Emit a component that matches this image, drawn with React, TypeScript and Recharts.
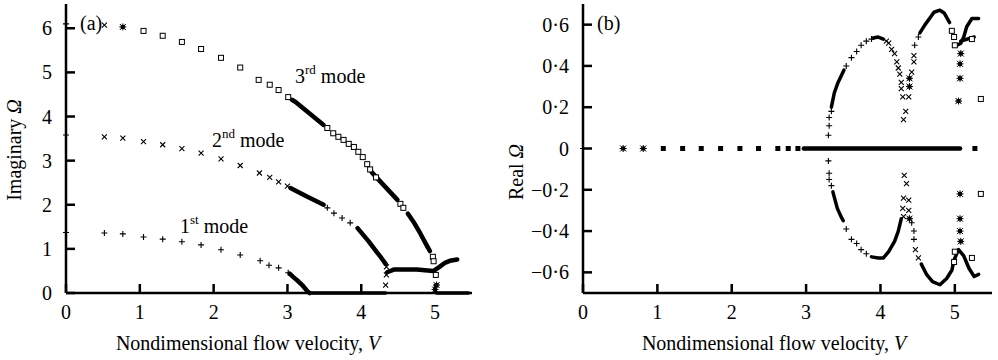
import React from 'react';
import { ScatterChart, Scatter, XAxis, YAxis } from 'recharts';

type P = [number, number];

// ---------- Panel (a): Imaginary part ----------
const aPlus: P[] = [
  [0, 6.1], [0, 3.58], [0, 1.37],
  [0.52, 1.36], [0.77, 1.34], [1.05, 1.27], [1.31, 1.22], [1.57, 1.16], [1.83, 1.09],
  [2.10, 0.98], [2.36, 0.86], [2.63, 0.73], [2.75, 0.63], [2.88, 0.57], [3.01, 0.46],
  [3.54, 1.93], [3.63, 1.81], [3.74, 1.70], [3.85, 1.59],
];
const aCross: P[] = [
  [0.52, 6.07],
  [0.52, 3.54], [0.77, 3.51], [1.05, 3.43], [1.31, 3.36], [1.57, 3.27], [1.83, 3.17],
  [2.10, 3.04], [2.36, 2.89], [2.62, 2.72], [2.76, 2.62], [2.88, 2.52], [3.0, 2.42],
  [4.34, 0.59], [4.34, 0.41], [4.33, 0.18],
];
const aSquare: P[] = [
  [1.05, 5.94], [1.31, 5.83], [1.57, 5.69], [1.83, 5.53], [2.10, 5.33], [2.36, 5.11],
  [2.61, 4.83], [2.76, 4.72], [2.88, 4.60], [3.01, 4.44],
  [3.54, 3.74], [3.62, 3.62], [3.69, 3.54], [3.76, 3.47], [3.83, 3.38], [3.90, 3.31],
  [3.96, 3.20], [4.02, 3.08], [4.08, 2.92], [4.12, 2.80], [4.2, 2.62],
  [4.53, 2.02], [4.57, 1.93], [4.97, 0.82], [4.98, 0.72], [5.01, 0.41],
];
const aStar: P[] = [[0.77, 6.03], [5.0, 0.08], [5.02, 0.18]];
const aMode1Dense: P[] = [[3.03, 0.44], [3.08, 0.36], [3.15, 0.26], [3.2, 0.18], [3.27, 0.04], [3.3, 0]];
const aZero1: P[] = [[3.3, 0], [4.33, 0]];
const aZero2: P[] = [[5.02, 0], [5.45, 0]];
const aMode2DenseA: P[] = [[3.04, 2.38], [3.27, 2.18], [3.49, 2.0]];
const aMode2DenseB: P[] = [[3.95, 1.47], [4.1, 1.17], [4.2, 0.95], [4.27, 0.8], [4.33, 0.66]];
const aBand: P[] = [
  [4.35, 0.47], [4.44, 0.53], [4.6, 0.53], [4.75, 0.53], [4.9, 0.51], [4.98, 0.5],
  [5.05, 0.58], [5.14, 0.69], [5.2, 0.73], [5.3, 0.76],
];
const aMode3DenseA: P[] = [[3.06, 4.38], [3.11, 4.33], [3.3, 4.07], [3.49, 3.81]];
const aMode3DenseB: P[] = [[4.14, 2.74], [4.3, 2.45], [4.49, 2.11]];
const aMode3DenseC: P[] = [[4.63, 1.8], [4.72, 1.58], [4.8, 1.35], [4.87, 1.13], [4.93, 0.95]];

// ---------- Panel (b): Real part ----------
const bPlus: P[] = [
  [0, 0],
  [3.30, 0.064], [3.31, 0.11], [3.31, 0.15], [3.34, 0.18],
  [3.54, 0.40], [3.61, 0.44], [3.68, 0.47], [3.74, 0.50], [3.81, 0.52], [3.88, 0.53],
  [4.46, 0.50], [4.51, 0.54],
  [3.30, -0.06], [3.31, -0.12], [3.31, -0.15], [3.34, -0.18],
  [3.54, -0.39], [3.61, -0.44], [3.68, -0.46], [3.74, -0.49], [3.81, -0.51],
  [4.42, -0.36], [4.45, -0.40], [4.45, -0.44],
];
const bCross: P[] = [
  [4.08, 0.52], [4.11, 0.51], [4.15, 0.48], [4.19, 0.46], [4.22, 0.42], [4.24, 0.39],
  [4.26, 0.36], [4.28, 0.32], [4.28, 0.29], [4.30, 0.25], [4.34, 0.18], [4.31, 0.14],
  [4.38, 0.25], [4.42, 0.37], [4.45, 0.42], [4.45, 0.45],
  [4.31, -0.33], [4.30, -0.29], [4.31, -0.24], [4.35, -0.17], [4.32, -0.13],
  [4.38, -0.25], [4.38, -0.30], [4.47, -0.49], [4.51, -0.53],
];
const bSquare: P[] = [
  [4.96, 0.57], [4.99, 0.54], [5.0, 0.50], [5.23, 0.53], [5.35, 0.24],
  [4.99, -0.55], [5.0, -0.50], [5.23, -0.53], [5.35, -0.22],
];
const bStar: P[] = [
  [0.54, 0], [0.81, 0],
  [4.39, 0.30], [4.39, 0.34], [4.39, -0.34],
  [5.08, 0.46], [5.07, 0.41], [5.07, 0.34], [5.05, 0.23],
  [5.07, -0.22], [5.07, -0.34], [5.07, -0.40], [5.08, -0.45],
];
const bFilled: P[] = [
  [1.08, 0], [1.34, 0], [1.59, 0], [1.85, 0], [2.11, 0], [2.36, 0], [2.62, 0], [2.76, 0], [2.89, 0], [5.27, 0],
];
const bZero: P[] = [[2.97, 0], [5.07, 0]];
const bUpArc1Rise: P[] = [[3.34, 0.2], [3.38, 0.27], [3.43, 0.32], [3.47, 0.35], [3.51, 0.38]];
const bUpArc1Top: P[] = [[3.9, 0.535], [3.97, 0.54], [4.04, 0.53]];
const bUpArc2: P[] = [[4.53, 0.56], [4.6, 0.6], [4.66, 0.63], [4.72, 0.66], [4.8, 0.67], [4.86, 0.655], [4.93, 0.61]];
const bUpRight: P[] = [[5.03, 0.50], [5.08, 0.51], [5.12, 0.54], [5.16, 0.59], [5.23, 0.63], [5.32, 0.63]];
const bUpFlat: P[] = [[5.08, 0.52], [5.26, 0.54]];
const bLoArc1Rise: P[] = [[3.36, -0.21], [3.42, -0.29], [3.47, -0.33], [3.5, -0.35]];
const bLoArc1Bottom: P[] = [[3.88, -0.525], [3.97, -0.53], [4.04, -0.53], [4.11, -0.5], [4.19, -0.45], [4.24, -0.4], [4.28, -0.34]];
const bLoArc2: P[] = [
  [4.55, -0.56], [4.62, -0.61], [4.7, -0.645], [4.8, -0.66], [4.89, -0.63], [4.96, -0.59],
  [4.99, -0.54], [5.05, -0.49], [5.12, -0.52], [5.19, -0.58], [5.26, -0.62], [5.32, -0.61],
];

const xTicks = [0, 1, 2, 3, 4, 5];
const aYTicks = [0, 1, 2, 3, 4, 5, 6];
const bYTicks = [-0.6, -0.4, -0.2, 0, 0.2, 0.4, 0.6];
const bTopTicks = [1, 2];

const rows = (pts: P[]) => pts.map(([v, w]) => ({ v, w }));

const FONT = '"Liberation Serif", "Times New Roman", serif';
const X_MARGIN = 12;
const Y_MARGIN = 14;
const TICK_LEN = 9;

const Plus = (p: any) => (
  <path d={`M${p.cx - 3},${p.cy}h6M${p.cx},${p.cy - 3}v6`} stroke="#000" strokeWidth={1.1} fill="none" />
);
const Cross = (p: any) => (
  <path d={`M${p.cx - 2.5},${p.cy - 2.5}l5,5M${p.cx - 2.5},${p.cy + 2.5}l5,-5`} stroke="#000" strokeWidth={1.1} fill="none" />
);
const Square = (p: any) => (
  <rect x={p.cx - 2.5} y={p.cy - 2.5} width={5} height={5} fill="#fff" stroke="#000" strokeWidth={1} />
);
const Star = (p: any) => (
  <g>
    <rect x={p.cx - 2} y={p.cy - 2} width={4} height={4} fill="#000" />
    <path d={`M${p.cx - 3},${p.cy - 3}l6,6M${p.cx - 3},${p.cy + 3}l6,-6M${p.cx - 3.5},${p.cy}h7M${p.cx},${p.cy - 3.5}v7`} stroke="#000" strokeWidth={1} />
  </g>
);
const Filled = (p: any) => <rect x={p.cx - 2.5} y={p.cy - 2.5} width={5} height={5} fill="#000" />;
const Nothing = () => <g />;

const fmtA = (t: number) => String(t);
const fmtB = (t: number) => (t === 0 ? '0' : (t < 0 ? '\u2212' : '') + Math.abs(t).toFixed(1).replace('.', '\u00b7'));

const XTick = (p: any) => {
  const ay = p.y - X_MARGIN;
  return (
    <g>
      <line x1={p.x} x2={p.x} y1={ay} y2={ay - TICK_LEN} stroke="#000" strokeWidth={2.5} />
      <text x={p.x} y={p.y} dy="0.71em" textAnchor="middle" fontFamily={FONT} fontSize={20} fill="#000">
        {fmtA(p.payload.value)}
      </text>
    </g>
  );
};
const TopTick = (p: any) => (
  <line x1={p.x} x2={p.x} y1={p.y} y2={p.y + TICK_LEN} stroke="#000" strokeWidth={2.5} />
);
const makeYTick = (fmt: (t: number) => string) => (p: any) => {
  const ax = p.x + Y_MARGIN;
  return (
    <g>
      <line x1={ax} x2={ax + TICK_LEN} y1={p.y} y2={p.y} stroke="#000" strokeWidth={2.5} />
      <text x={p.x} y={p.y} dy="0.355em" textAnchor="end" fontFamily={FONT} fontSize={20} fill="#000">
        {fmt(p.payload.value)}
      </text>
    </g>
  );
};
const YTickA = makeYTick(fmtA);
const YTickB = makeYTick(fmtB);

const dense = (pts: P[], key: string, w: number = 4.5) => (
  <Scatter
    key={key}
    data={rows(pts)}
    fill="#000"
    shape={Nothing}
    line={{ stroke: '#000', strokeWidth: w, strokeLinecap: 'round', strokeLinejoin: 'round' }}
    isAnimationActive={false}
  />
);
const marks = (pts: P[], shape: any, key: string) => (
  <Scatter key={key} data={rows(pts)} fill="#000" shape={shape} isAnimationActive={false} />
);

const axisMain = { stroke: '#000', strokeWidth: 2.5 };
const axisFrame = { stroke: '#000', strokeWidth: 2 };

export default function App() {
  return (
    <div style={{ position: 'absolute', left: 0, top: 0, width: 998, height: 360, background: '#fff' }}>
      <div style={{ position: 'absolute', left: 0, top: 0 }}>
        <ScatterChart width={490} height={360} margin={{ top: 4, right: 18, bottom: 0, left: 0 }}>
          <XAxis dataKey="v" type="number" domain={[0, 5.5]} ticks={xTicks} interval={0}
            height={67} tickSize={0} tickMargin={X_MARGIN} tick={XTick} tickLine={false} axisLine={axisMain} />
          <XAxis xAxisId="top" orientation="top" type="number" domain={[0, 5.5]} height={0}
            tick={false} tickLine={false} axisLine={axisFrame} />
          <YAxis dataKey="w" type="number" domain={[0, 6.55]} ticks={aYTicks} interval={0}
            width={66} tickSize={0} tickMargin={Y_MARGIN} tick={YTickA} tickLine={false} axisLine={axisMain} />
          <YAxis yAxisId="right" orientation="right" type="number" domain={[0, 6.55]} width={0}
            tick={false} tickLine={false} axisLine={axisFrame} />
          {dense(aMode1Dense, 'a1')}
          {dense(aZero1, 'a2', 3.5)}
          {dense(aZero2, 'a3', 3.5)}
          {dense(aMode2DenseA, 'a4')}
          {dense(aMode2DenseB, 'a5')}
          {dense(aBand, 'a6')}
          {dense(aMode3DenseA, 'a7')}
          {dense(aMode3DenseB, 'a8')}
          {dense(aMode3DenseC, 'a9')}
          {marks(aPlus, Plus, 'a10')}
          {marks(aCross, Cross, 'a11')}
          {marks(aSquare, Square, 'a12')}
          {marks(aStar, Star, 'a13')}
        </ScatterChart>
      </div>
      <div style={{ position: 'absolute', left: 500, top: 0 }}>
        <ScatterChart width={498} height={360} margin={{ top: 4, right: 6, bottom: 0, left: 0 }}>
          <XAxis dataKey="v" type="number" domain={[0, 5.5]} ticks={xTicks} interval={0}
            height={67} tickSize={0} tickMargin={X_MARGIN} tick={XTick} tickLine={false} axisLine={axisMain} />
          <XAxis xAxisId="top" orientation="top" type="number" domain={[0, 5.5]} height={0}
            ticks={bTopTicks} interval={0} tickSize={0} tickMargin={0} tick={TopTick} tickLine={false}
            axisLine={axisFrame} />
          <YAxis dataKey="w" type="number" domain={[-0.7, 0.7]} ticks={bYTicks} interval={0}
            width={83} tickSize={0} tickMargin={Y_MARGIN} tick={YTickB} tickLine={false} axisLine={axisMain} />
          <YAxis yAxisId="right" orientation="right" type="number" domain={[-0.7, 0.7]} width={0}
            tick={false} tickLine={false} axisLine={axisFrame} />
          {dense(bZero, 'b1', 4.5)}
          {dense(bUpArc1Rise, 'b2', 3.5)}
          {dense(bUpArc1Top, 'b3', 3.5)}
          {dense(bUpArc2, 'b4', 3.5)}
          {dense(bUpRight, 'b5', 3.5)}
          {dense(bUpFlat, 'b6', 3.5)}
          {dense(bLoArc1Rise, 'b7', 3.5)}
          {dense(bLoArc1Bottom, 'b8', 3.5)}
          {dense(bLoArc2, 'b9', 3.5)}
          {marks(bPlus, Plus, 'b10')}
          {marks(bCross, Cross, 'b11')}
          {marks(bSquare, Square, 'b12')}
          {marks(bStar, Star, 'b13')}
          {marks(bFilled, Filled, 'b14')}
        </ScatterChart>
      </div>
      <svg width={998} height={360} style={{ position: 'absolute', left: 0, top: 0, pointerEvents: 'none' }}
        fontFamily={FONT} fontSize={20} fill="#000">
        <text x={80} y={30}>(a)</text>
        <text x={597} y={30}>(b)</text>
        <text x={295} y={83}>3<tspan fontSize={13} dy={-9}>rd</tspan><tspan dy={9}> mode</tspan></text>
        <text x={212} y={147}>2<tspan fontSize={13} dy={-9}>nd</tspan><tspan dy={9}> mode</tspan></text>
        <text x={180} y={233}>1<tspan fontSize={13} dy={-9}>st</tspan><tspan dy={9}> mode</tspan></text>
        <text x={248} y={350} textAnchor="middle">Nondimensional flow velocity, <tspan fontStyle="italic">V</tspan></text>
        <text x={774} y={350} textAnchor="middle">Nondimensional flow velocity, <tspan fontStyle="italic">V</tspan></text>
        <text transform="translate(21,150) rotate(-90)" textAnchor="middle">Imaginary <tspan fontStyle="italic">Ω</tspan></text>
        <text transform="translate(523,172) rotate(-90)" textAnchor="middle">Real <tspan fontStyle="italic">Ω</tspan></text>
      </svg>
    </div>
  );
}
